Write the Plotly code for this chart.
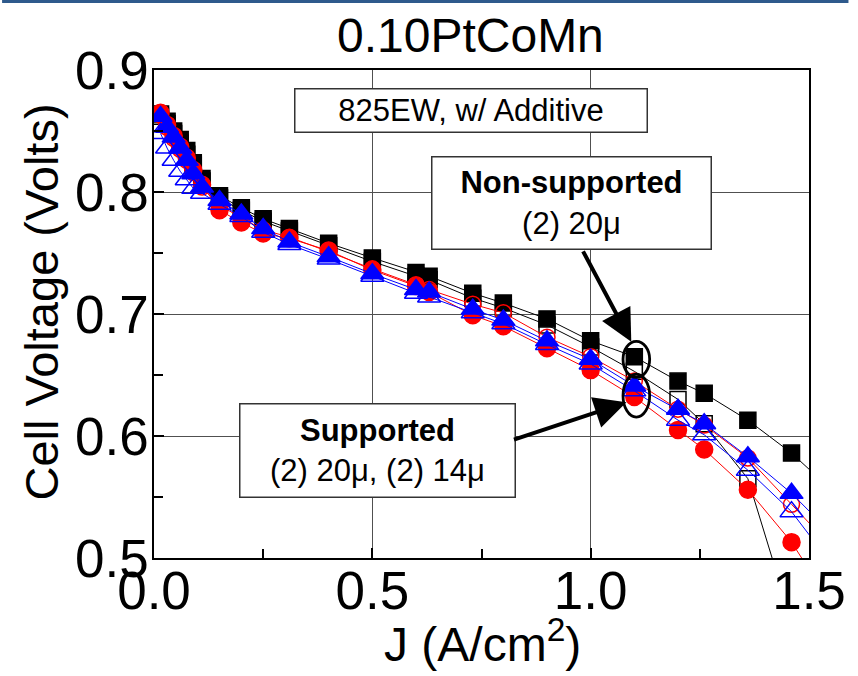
import plotly.graph_objects as go

# Current density (A/cm^2) shared by every polarization curve
J = [0.015, 0.03, 0.045, 0.06, 0.075, 0.09, 0.11, 0.15, 0.20, 0.25, 0.31,
     0.40, 0.50, 0.60, 0.63, 0.73, 0.80, 0.90, 1.00, 1.10, 1.20, 1.26,
     1.36, 1.46, 1.56]

# Cell voltage (V) for each MEA
nonsup_a = [0.864, 0.858, 0.850, 0.843, 0.834, 0.824, 0.811, 0.797, 0.787, 0.778,
            0.770, 0.758, 0.746, 0.734, 0.731, 0.717, 0.709, 0.696, 0.678, 0.665,
            0.645, 0.635, 0.613, 0.586, 0.553]
nonsup_b = [0.862, 0.856, 0.848, 0.840, 0.831, 0.822, 0.809, 0.795, 0.785, 0.776,
            0.768, 0.756, 0.743, 0.731, 0.728, 0.713, 0.705, 0.691, 0.673, 0.653,
            0.630, 0.610, 0.565, 0.448, None]
sup20_a = [0.865, 0.855, 0.846, 0.837, 0.828, 0.818, 0.806, 0.785, 0.775, 0.766,
           0.762, 0.752, 0.736, 0.723, 0.718, 0.699, 0.690, 0.672, 0.654, 0.632,
           0.605, 0.589, 0.556, 0.513, 0.457]
sup20_b = [0.863, 0.853, 0.844, 0.835, 0.826, 0.816, 0.804, 0.789, 0.779, 0.769,
           0.763, 0.751, 0.737, 0.724, 0.720, 0.708, 0.701, 0.681, 0.665, 0.645,
           0.622, 0.609, 0.582, 0.544, 0.506]
sup14_a = [0.862, 0.853, 0.845, 0.836, 0.826, 0.815, 0.804, 0.793, 0.782, 0.770,
           0.759, 0.747, 0.733, 0.720, 0.718, 0.704, 0.695, 0.678, 0.663, 0.641,
           0.622, 0.610, 0.583, 0.553, 0.517]
sup14_b = [0.848, 0.836, 0.826, 0.817, 0.810, 0.803, 0.799, 0.790, 0.780, 0.767,
           0.757, 0.745, 0.731, 0.717, 0.714, 0.701, 0.692, 0.675, 0.659, 0.637,
           0.613, 0.601, 0.572, 0.538, 0.491]

x_ticks = [0.0, 0.5, 1.0, 1.5]
y_ticks = [0.5, 0.6, 0.7, 0.8, 0.9]

FONT = "Liberation Sans, Arial, sans-serif"

series = [
    (nonsup_b, "#000000", "square-open", 16),
    (nonsup_a, "#000000", "square", 16),
    (sup20_b, "#FF0000", "circle-open", 16),
    (sup20_a, "#FF0000", "circle", 17),
    (sup14_b, "#0000FF", "triangle-up-open", 20),
    (sup14_a, "#0000FF", "triangle-up", 20),
]

fig = go.Figure()
for v, color, sym, size in series:
    fig.add_trace(go.Scatter(
        x=J, y=v, mode="lines+markers",
        line=dict(color=color, width=1),
        marker=dict(symbol=sym, size=size, color=color,
                    line=dict(color=color, width=1.5)),
        showlegend=False,
    ))

# plot area in pixels: left 154, right 818, top 70, bottom 558
L, R, T, B = 154, 818, 70, 558
W, H = 858, 676


def px(xp):
    return (xp - L) / (R - L)


def py(yp):
    return (B - yp) / (B - T)


def label(text, xp, yp, size, **kw):
    return dict(text=text, x=px(xp), y=py(yp), xref="paper", yref="paper",
                xanchor="center", yanchor="middle", showarrow=False,
                font=dict(family=FONT, size=size, color="black"), **kw)


box = dict(borderpad=0, bordercolor="#333333", borderwidth=1.5, bgcolor="white")

annotations = [
    label("0.10PtCoMn", 475, 36, 48),
    label("Cell Voltage (Volts)", 39, 302, 47, textangle=-90),
    label("J (A/cm<sup>2</sup>)", 487, 641, 48),
    label("825EW, w/ Additive", 475, 110.5, 31, width=351, height=42, **box),
    label("<b>Non-supported</b><br>(2) 20μ", 577.5, 203, 31, width=278, height=91, **box),
    label("<b>Supported</b><br>(2) 20μ, (2) 14μ", 380.5, 450.5, 31, width=274, height=92, **box),
    # arrows pointing at the J = 1.1 points
    dict(text="", x=1.093, y=0.6772, xref="x", yref="y", showarrow=True,
         ax=-49, ay=-92, arrowhead=2, arrowsize=1.6, arrowwidth=4, arrowcolor="black",
         standoff=0),
    dict(text="", x=1.082, y=0.6277, xref="x", yref="y", showarrow=True,
         ax=-114, ay=38, arrowhead=2, arrowsize=1.6, arrowwidth=4, arrowcolor="black",
         standoff=0),
]

shapes = [
    dict(type="circle", xref="x", yref="y", x0=1.0741, x1=1.1351, y0=0.6481, y1=0.6776,
         line=dict(color="black", width=2.8)),
    dict(type="circle", xref="x", yref="y", x0=1.0741, x1=1.1351, y0=0.6155, y1=0.6506,
         line=dict(color="black", width=2.8)),
    dict(type="rect", xref="paper", yref="paper", x0=px(0), x1=px(W), y0=py(3), y1=py(0),
         line=dict(width=0), fillcolor="#2E5A8C", layer="above"),
]

axis_common = dict(
    showline=True, linecolor="black", linewidth=1.5, mirror=True,
    showgrid=True, gridcolor="#505050", gridwidth=1,
    ticks="inside", ticklen=10, tickcolor="black", tickwidth=1.5,
    tickfont=dict(family=FONT, size=53, color="black"),
    tickformat=".1f", zeroline=False,
)

fig.update_layout(
    width=W, height=H,
    margin=dict(l=L, r=W - R, t=T, b=H - B, pad=0),
    plot_bgcolor="white", paper_bgcolor="white",
    xaxis=dict(range=[0, 1.5], tickvals=x_ticks, ticklabelstandoff=-14,
               minor=dict(dtick=0.25, ticks="inside", ticklen=9, tickcolor="black",
                          tickwidth=1.5, showgrid=False),
               **axis_common),
    yaxis=dict(range=[0.5, 0.9], tickvals=y_ticks, ticklabelstandoff=-7,
               minor=dict(dtick=0.05, ticks="inside", ticklen=9, tickcolor="black",
                          tickwidth=1.5, showgrid=False),
               **axis_common),
    annotations=annotations,
    shapes=shapes,
)

fig.write_html("out.html")
